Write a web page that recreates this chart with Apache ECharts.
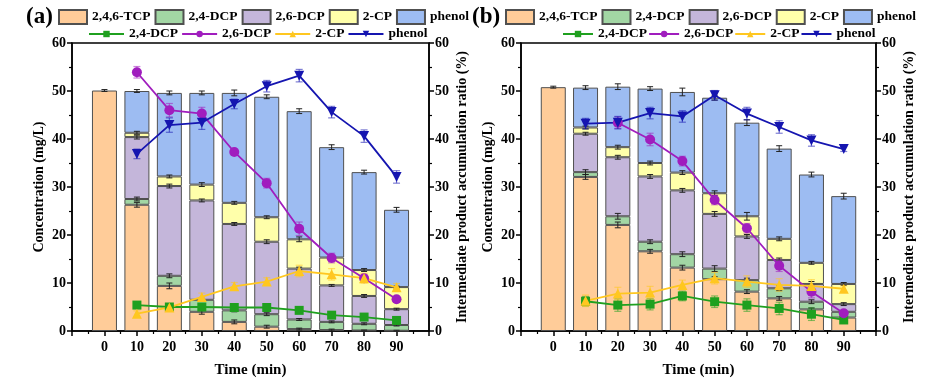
<!DOCTYPE html>
<html><head><meta charset="utf-8">
<script src="https://cdn.jsdelivr.net/npm/echarts@6/dist/echarts.min.js"></script>
<style>html,body{margin:0;padding:0;background:#fff}#c{width:945px;height:383px}</style>
</head><body><div id="c"></div>
<script>
// ---------- data ----------
const times = [0, 10, 20, 30, 40, 50, 60, 70, 80, 90];
const lineTimes = [10, 20, 30, 40, 50, 60, 70, 80, 90];
const xTickLabels = ['0', '10', '20', '30', '40', '50', '60', '70', '80', '90'];
const barNames = ['2,4,6-TCP', '2,4-DCP', '2,6-DCP', '2-CP', 'phenol'];
const lineNames = ['2,4-DCP ', '2,6-DCP ', '2-CP ', 'phenol '];

// panel (a) stacked concentrations (mg/L)
const aTCP   = [50.1, 26.3, 9.4, 4.0, 1.9, 0.9, 0.4, 0.2, 0.1, 0.05];
const aDCP24 = [null, 1.2, 2.1, 2.5, 2.4, 2.6, 2.0, 1.7, 1.4, 1.2];
const aDCP26 = [null, 12.9, 18.7, 20.7, 18.0, 15.1, 10.6, 7.6, 5.8, 3.3];
const aCP2   = [null, 0.9, 2.0, 3.3, 4.4, 5.1, 6.1, 5.8, 5.4, 4.6];
const aPhen  = [null, 8.7, 17.4, 19.1, 22.9, 25.1, 26.7, 23.0, 20.4, 16.1];
const aTCPErr   = [0.2, 0.5, 0.6, 0.5, 0.4, 0.3, 0.2, 0.2, 0.1, 0.1];
const aDCP24Err = [null, 0.4, 0.4, 0.3, 0.3, 0.3, 0.2, 0.2, 0.2, 0.2];
const aDCP26Err = [null, 0.4, 0.4, 0.3, 0.3, 0.4, 0.3, 0.2, 0.3, 0.2];
const aCP2Err   = [null, 0.3, 0.3, 0.4, 0.3, 0.3, 0.5, 0.3, 0.3, 0.2];
const aPhenErr  = [null, 0.3, 0.4, 0.4, 0.6, 0.4, 0.5, 0.5, 0.4, 0.5];
// panel (a) accumulation ratios (%)
const aRDCP24 = [5.4, 5.0, 5.0, 4.9, 4.9, 4.3, 3.3, 2.9, 2.2];
const aRDCP26 = [53.9, 46.0, 45.3, 37.3, 30.8, 21.3, 15.2, 11.0, 6.6];
const aRCP2   = [3.6, 4.9, 7.1, 9.3, 10.3, 12.5, 11.8, 11.0, 9.1];
const aRPhen  = [36.9, 42.9, 43.4, 47.3, 51.0, 53.2, 45.6, 40.6, 32.1];
const aRDCP24Err = [0.6, 0.4, 0.5, 0.5, 0.5, 0.6, 0.5, 0.5, 0.4];
const aRDCP26Err = [1.2, 1.4, 1.3, 0.6, 1.0, 1.4, 1.0, 0.8, 0.6];
const aRCP2Err   = [0.6, 0.6, 0.8, 0.8, 0.8, 1.2, 1.2, 1.0, 0.8];
const aRPhenErr  = [1.0, 1.5, 1.4, 1.0, 1.2, 1.3, 1.2, 1.3, 1.3];

// panel (b) stacked concentrations (mg/L)
const bTCP   = [50.8, 32.1, 22.1, 16.6, 13.2, 10.8, 8.2, 6.8, 4.5, 2.8];
const bDCP24 = [null, 1.0, 1.8, 2.0, 2.8, 2.2, 2.4, 2.1, 1.6, 1.2];
const bDCP26 = [null, 8.0, 12.3, 13.6, 13.3, 11.4, 9.1, 5.9, 3.7, 1.6];
const bCP2   = [null, 1.3, 2.1, 2.8, 3.7, 4.3, 4.2, 4.4, 4.4, 4.2];
const bPhen  = [null, 8.3, 12.6, 15.5, 16.8, 19.9, 19.5, 18.8, 18.4, 18.3];
const bTCPErr   = [0.2, 0.5, 0.6, 0.4, 0.5, 0.5, 0.4, 0.4, 0.3, 0.2];
const bDCP24Err = [null, 0.5, 0.6, 0.4, 0.5, 0.6, 0.4, 0.5, 0.4, 0.3];
const bDCP26Err = [null, 0.3, 0.4, 0.4, 0.4, 0.5, 0.4, 0.4, 0.5, 0.3];
const bCP2Err   = [null, 0.3, 0.4, 0.4, 0.4, 0.5, 0.8, 0.4, 0.3, 0.3];
const bPhenErr  = [null, 0.4, 0.6, 0.4, 0.8, 0.5, 0.6, 0.6, 0.5, 0.6];
// panel (b) accumulation ratios (%)
const bRDCP24 = [6.2, 5.4, 5.6, 7.3, 6.1, 5.4, 4.7, 3.5, 2.3];
const bRDCP26 = [null, 43.4, 39.9, 35.4, 27.3, 21.4, 13.6, 8.2, 3.7];
const bRCP2   = [6.3, 7.8, 8.0, 9.6, 11.0, 10.3, 9.6, 9.4, 8.8];
const bRPhen  = [43.2, 43.4, 45.4, 44.7, 49.1, 45.3, 42.5, 39.7, 37.9];
const bRDCP24Err = [1.0, 1.3, 1.2, 1.0, 1.2, 1.3, 1.3, 1.3, 0.5];
const bRDCP26Err = [null, 1.2, 1.3, 1.0, 1.0, 1.0, 1.2, 1.3, 0.5];
const bRCP2Err   = [1.2, 1.3, 1.3, 1.0, 1.2, 1.2, 1.3, 1.3, 0.6];
const bRPhenErr  = [1.1, 1.3, 1.2, 1.2, 1.0, 1.3, 1.3, 1.2, 0.5];

// ---------- styles ----------
const barColors = ['#FFCC99', '#A2D6A4', '#C4B6DA', '#FFFFAA', '#9DBCF2'];
const lineColors = ['#1FA01F', '#A01DBE', '#FFC720', '#1515B0'];
const lineSymbols = ['rect', 'circle', 'triangle', 'triangle'];
const lineRot = [0, 0, 0, 180];
const FONT = 'Liberation Serif';
const txt = {fontFamily: FONT, fontWeight: 'bold', color: '#000'};

function errRender(color, capHalf, lw) {
  return function (params, api) {
    const x = api.value(0), y = api.value(1), e = api.value(2);
    if (y == null || isNaN(y) || e == null || isNaN(e)) return;
    const p1 = api.coord([x, y + e]);
    const p2 = api.coord([x, y - e]);
    const st = {stroke: color, lineWidth: lw};
    return {type: 'group', children: [
      {type: 'line', shape: {x1: p1[0], y1: p1[1], x2: p2[0], y2: p2[1]}, style: st},
      {type: 'line', shape: {x1: p1[0] - capHalf, y1: p1[1], x2: p1[0] + capHalf, y2: p1[1]}, style: st},
      {type: 'line', shape: {x1: p2[0] - capHalf, y1: p2[1], x2: p2[0] + capHalf, y2: p2[1]}, style: st}
    ]};
  };
}

const series = [];
function buildPanel(g, bars, barErrs, lines, lineErrs) {
  const yl = g * 2, yr = g * 2 + 1;
  const cum = times.map(() => 0);
  bars.forEach((arr, k) => {
    series.push({
      type: 'bar', name: barNames[k], xAxisIndex: g, yAxisIndex: yl, stack: 'p' + g,
      barWidth: 25, z: 2,
      encode: {x: 1, y: 0},
      itemStyle: {color: barColors[k], borderColor: '#505050', borderWidth: 1},
      data: times.map((t, i) => [arr[i], t])
    });
    const errData = [];
    times.forEach((t, i) => {
      if (arr[i] != null) {
        cum[i] += arr[i];
        if (barErrs[k][i] != null) errData.push([t, cum[i], barErrs[k][i]]);
      }
    });
    series.push({
      type: 'custom', xAxisIndex: g, yAxisIndex: yl, z: 3, silent: true,
      renderItem: errRender('#222', 3, 1), data: errData
    });
  });
  lines.forEach((arr, k) => {
    series.push({
      type: 'custom', xAxisIndex: g, yAxisIndex: yr, z: 4, silent: true,
      renderItem: errRender(echarts.color.modifyAlpha(lineColors[k], 0.55), 3.5, 1.2),
      data: lineTimes.map((t, i) => [t, arr[i], lineErrs[k][i]]).filter(d => d[1] != null)
    });
  });
  lines.forEach((arr, k) => {
    series.push({
      type: 'line', name: lineNames[k], xAxisIndex: g, yAxisIndex: yr, z: 5,
      symbol: lineSymbols[k], symbolRotate: lineRot[k], symbolSize: lineSymbols[k] === 'rect' ? 9 : 10,
      color: lineColors[k], lineStyle: {color: lineColors[k], width: 1.8},
      itemStyle: {color: lineColors[k]},
      data: lineTimes.map((t, i) => [t, arr[i]])
    });
  });
}
buildPanel(0, [aTCP, aDCP24, aDCP26, aCP2, aPhen], [aTCPErr, aDCP24Err, aDCP26Err, aCP2Err, aPhenErr],
  [aRDCP24, aRDCP26, aRCP2, aRPhen], [aRDCP24Err, aRDCP26Err, aRCP2Err, aRPhenErr]);
buildPanel(1, [bTCP, bDCP24, bDCP26, bCP2, bPhen], [bTCPErr, bDCP24Err, bDCP26Err, bCP2Err, bPhenErr],
  [bRDCP24, bRDCP26, bRCP2, bRPhen], [bRDCP24Err, bRDCP26Err, bRCP2Err, bRPhenErr]);

const grids = [
  {left: 72, right: 516, top: 43, bottom: 52, show: true, borderColor: '#000', borderWidth: 1.5, backgroundColor: 'transparent'},
  {left: 521, right: 69, top: 43, bottom: 52, show: true, borderColor: '#000', borderWidth: 1.5, backgroundColor: 'transparent'}
];
const axLine = {show: true, onZero: false, lineStyle: {color: '#000', width: 1.5}};
const xAxes = [0, 1].map(g => ({
  type: 'value', gridIndex: g, min: -10, max: 100, interval: 10,
  axisLine: axLine, splitLine: {show: false},
  axisTick: {show: true, length: 5, lineStyle: {color: '#000', width: 1.5}},
  minorTick: {show: true, splitNumber: 2, length: 3, lineStyle: {color: '#000', width: 1.2}},
  axisLabel: Object.assign({fontSize: 14, margin: 9,
    formatter: v => { const s = String(v); return xTickLabels.indexOf(s) >= 0 ? s : ''; }}, txt),
  name: 'Time (min)', nameLocation: 'middle', nameGap: 32,
  nameTextStyle: Object.assign({fontSize: 15}, txt)
}));
const yAxes = [];
[0, 1].forEach(g => {
  yAxes.push({
    type: 'value', gridIndex: g, position: 'left', min: 0, max: 60, interval: 10,
    axisLine: axLine, splitLine: {show: false},
    axisTick: {show: true, length: 5, lineStyle: {color: '#000', width: 1.5}},
    minorTick: {show: true, splitNumber: 2, length: 3, lineStyle: {color: '#000', width: 1.2}},
    axisLabel: Object.assign({fontSize: 14, margin: 6}, txt),
    name: 'Concentration (mg/L)', nameLocation: 'middle', nameGap: 26,
    nameTextStyle: Object.assign({fontSize: 14}, txt)
  });
  yAxes.push({
    type: 'value', gridIndex: g, position: 'right', min: 0, max: 60, interval: 10,
    axisLine: axLine, splitLine: {show: false},
    axisTick: {show: true, length: 5, lineStyle: {color: '#000', width: 1.5}},
    minorTick: {show: true, splitNumber: 2, length: 3, lineStyle: {color: '#000', width: 1.2}},
    axisLabel: Object.assign({fontSize: 14, margin: 6}, txt),
    name: 'Intermediate product accumulation ratio (%)', nameLocation: 'middle', nameGap: 26,
    nameTextStyle: Object.assign({fontSize: 14}, txt)
  });
});

const legTxt = Object.assign({fontSize: 13.5}, txt);
const legends = [];
[[58, 88, 35, 3], [505, 562, 30, 1]].forEach(([l1, l2, iw, ig]) => {
  legends.push({data: barNames, left: l1, top: 9, itemWidth: 28, itemHeight: 14, itemGap: 4,
    textStyle: legTxt, padding: 0, selectedMode: false, icon: 'rect'});
  legends.push({data: lineNames, left: l2, top: 27, itemWidth: iw, itemHeight: 8, itemGap: ig,
    textStyle: legTxt, padding: 0, selectedMode: false, formatter: n => n.trim()});
});

const chart = echarts.init(document.getElementById('c'), null, {renderer: 'canvas'});
chart.setOption({
  animation: false,
  backgroundColor: '#fff',
  title: [
    {text: '(a)', left: 26, top: 6, padding: 0, textStyle: Object.assign({fontSize: 23}, txt)},
    {text: '(b)', left: 472, top: 6, padding: 0, textStyle: Object.assign({fontSize: 23}, txt)}
  ],
  legend: legends,
  grid: grids,
  xAxis: xAxes,
  yAxis: yAxes,
  series: series
});
</script></body></html>
